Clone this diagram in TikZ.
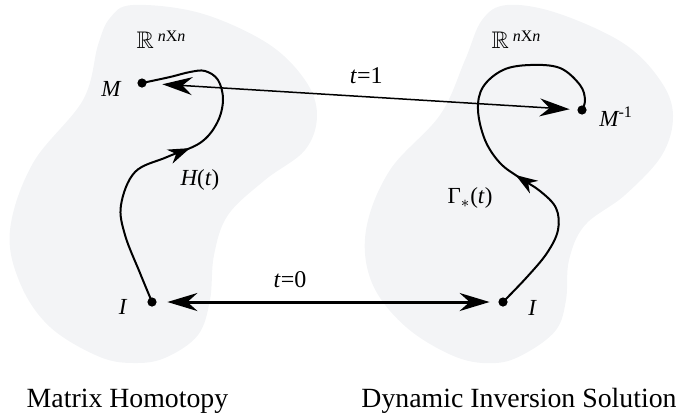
\documentclass[tikz,border=0pt]{standalone}
\usepackage{amssymb}
\usepackage{fontspec}
\setmainfont{Liberation Serif}
\newfontfamily\timesfont{Liberation Serif}
\usetikzlibrary{positioning, arrows.meta, decorations.markings}

\definecolor{blobgray}{RGB}{243,244,246}

\tikzset{
  dot/.style={circle, fill, inner sep=0pt, minimum size=4.6pt},
  lbl/.style={inner sep=1pt, font=\timesfont\fontsize{11.5}{13}\selectfont\itshape},
  caption/.style={anchor=base, font=\timesfont\fontsize{13.9}{16}\selectfont},
  space/.style={font=\timesfont\fontsize{12}{14}\selectfont},
  homotopy/.style={line width=1pt},
  midarrow/.style={postaction={decorate, decoration={markings,
      mark=at position #1 with {\arrow{Stealth[length=11pt,width=7.5pt,inset=3.5pt]}}}}}
}

\begin{document}
\begin{tikzpicture}[> = {Stealth[length=15pt,width=9pt,inset=5pt]}, x=0.5pt, y=-0.5pt]
  \useasboundingbox (0,0) rectangle (678,419);

  % the two copies of R^{n x n}
  \fill[blobgray] plot[smooth cycle, tension=0.6] coordinates {
    (133,5) (200,13) (267,43) (305,80) (317,115) (305,150) (265,180) (228,215)
    (214,255) (210,300) (198,335) (167,357) (137,363) (100,357) (50,327)
    (20,283) (10,230) (33,163) (83,100) (98,45) (110,18)};
  \fill[blobgray] plot[smooth cycle, tension=0.6] coordinates {
    (507,5) (557,13) (623,43) (660,80) (673,115) (662,155) (625,195) (585,225)
    (569,260) (566,300) (556,330) (526,353) (496,363) (456,357) (406,327)
    (372,283) (366,230) (390,170) (440,115) (465,60) (482,20)};

  \node[space] (Rl) at (161,40) {$\mathbb{R}$\,\raisebox{3.5pt}{\fontsize{8}{8}\selectfont\textit{n}X\textit{n}}};
  \node[space] (Rr) at (516,40) {$\mathbb{R}$\,\raisebox{3.5pt}{\fontsize{8}{8}\selectfont\textit{n}X\textit{n}}};

  % points
  \node[dot] (Ml) at (142,83) {};
  \node[dot] (Il) at (152,302) {};
  \node[dot] (Minv) at (582,110) {};
  \node[dot] (Ir) at (503,302) {};

  \node[lbl] (lblMl) [left=7pt of Ml, yshift=-3pt] {M};
  \node[lbl] (lblIl) [left=9pt of Il, yshift=-2.5pt] {I};
  \node[lbl] (lblMinv) [right=5pt of Minv, yshift=-3.5pt] {M\textsuperscript{\upshape -1}};
  \node[lbl] (lblIr) [right=9pt of Ir, yshift=-3pt] {I};

  % paths from I
  \draw[homotopy, midarrow=0.55] plot[smooth, tension=0.6] coordinates {
    (Il) (140,273) (125,235) (121,205) (135,172) (167,157) (200,143) (217,123)
    (223,100) (218,80) (205,71) (190,72) (170,77) (Ml)};
  \draw[homotopy, midarrow=0.41] plot[smooth, tension=0.6] coordinates {
    (Ir) (527,277) (547,253) (558,230) (556,208) (540,191) (520,178) (500,163)
    (485,140) (478,110) (483,87) (503,70) (530,65) (560,68) (580,85) (585,100) (Minv)};

  \node[lbl] (lblH) at (200,180) {H\upshape(\textit{t})};
  \node[lbl] (lblG) at (470,198) {\upshape Γ$_{*}$(\textit{t})};

  \path[<->] (Il) edge[line width=1.5pt, shorten <=5.2pt, shorten >=4.2pt]
      node[pos=0.39, above=3pt, font=\timesfont\fontsize{12}{14}\selectfont] {\textit{t}=0} (Ir)
    (Ml) edge[line width=0.75pt, shorten <=7.7pt, shorten >=3.7pt]
      node[pos=0.51, above=3pt, font=\timesfont\fontsize{12}{14}\selectfont] {\textit{t}=1} (Minv);

  \node[caption] (capl) at (127.5,407) {Matrix Homotopy};
  \node[caption] (capr) at (519,407) {Dynamic Inversion Solution};
\end{tikzpicture}
\end{document}
